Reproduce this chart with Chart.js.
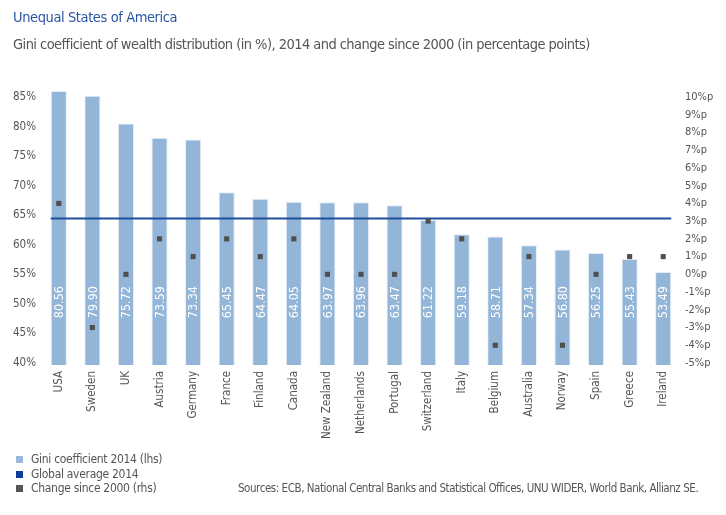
<!DOCTYPE html>
<html>
<head>
<meta charset="utf-8">
<script src="https://cdn.jsdelivr.net/npm/chart.js@4.4.1/dist/chart.umd.min.js"></script>
<style>
  html, body { margin: 0; padding: 0; background: #fff; }
  body { width: 726px; height: 515px; position: relative; overflow: hidden;
         font-family: "Liberation Sans Narrow", "DejaVu Sans Condensed", sans-serif; }
  #wrap { position: absolute; left: 0; top: 0; width: 726px; height: 515px; }
  .title { position: absolute; left: 13px; top: 9px; font-size: 14.5px; color: #2b55a3; letter-spacing: -0.4px; white-space: nowrap; }
  .subtitle { position: absolute; left: 13px; top: 36px; font-size: 14.5px; color: #555; letter-spacing: -0.55px; white-space: nowrap; }
  .legend { position: absolute; left: 16px; top: 452px; font-size: 12px; color: #555; line-height: 14.5px; letter-spacing: -0.3px; white-space: nowrap; }
  .legend span { display: inline-block; width: 7px; height: 7px; margin-right: 8px; vertical-align: 0px; }
  .source { position: absolute; left: 238px; top: 481px; font-size: 11.5px; color: #555; letter-spacing: -0.45px; white-space: nowrap; }
</style>
</head>
<body>
<div id="wrap"><canvas id="giniChart" width="726" height="515"></canvas></div>
<div class="title">Unequal States of America</div>
<div class="subtitle">Gini coefficient of wealth distribution (in %), 2014 and change since 2000 (in percentage points)</div>
<div class="legend">
  <div><span style="background:#9bbadb"></span>Gini coefficient 2014 (lhs)</div>
  <div><span style="background:#0b3f99"></span>Global average 2014</div>
  <div><span style="background:#555"></span>Change since 2000 (rhs)</div>
</div>
<div class="source">Sources: ECB, National Central Banks and Statistical Offices, UNU WIDER, World Bank, Allianz SE.</div>
<script>
const countries = ['USA', 'Sweden', 'UK', 'Austria', 'Germany', 'France', 'Finland', 'Canada', 'New Zealand',
  'Netherlands', 'Portugal', 'Switzerland', 'Italy', 'Belgium', 'Australia', 'Norway', 'Spain', 'Greece', 'Ireland'];
// bar heights as drawn (lhs)
const barHeights = [86.0, 85.2, 80.5, 78.1, 77.8, 68.9, 67.8, 67.3, 67.2, 67.2, 66.7, 64.2, 61.8, 61.4, 59.9, 59.2, 58.6, 57.6, 55.4];
// values printed inside the bars
const giniLabels = ['80.56', '79.90', '75.72', '73.59', '73.34', '65.45', '64.47', '64.05', '63.97', '63.96',
  '63.47', '61.22', '59.18', '58.71', '57.34', '56.80', '56.25', '55.43', '53.49'];
// change since 2000 in percentage points (rhs)
const changeSince2000 = [4, -3, 0, 2, 1, 2, 1, 2, 0, 0, 0, 3, 2, -4, 1, -4, 0, 1, 1];
const globalAverage = 64.5;

const NARROW = '"Liberation Sans Narrow", "DejaVu Sans Condensed", sans-serif';

// global average line + value labels inside bars
const barExtras = {
  id: 'barExtras',
  afterDatasetDraw(chart, args) {
    if (args.index !== 0) return;
    const ctx = chart.ctx;
    const y = chart.scales.y;
    const bars = chart.getDatasetMeta(0).data;

    ctx.save();
    ctx.fillStyle = '#fff';
    ctx.font = '12.5px ' + NARROW;
    ctx.textAlign = 'center';
    ctx.textBaseline = 'middle';
    bars.forEach((bar, i) => {
      ctx.save();
      ctx.translate(bar.x, y.getPixelForValue(50.3));
      ctx.rotate(-Math.PI / 2);
      ctx.fillText(giniLabels[i], 0, 1);
      ctx.restore();
    });

    const first = bars[0], last = bars[bars.length - 1];
    const ly = Math.round(y.getPixelForValue(globalAverage)) + 0.5;
    ctx.strokeStyle = '#1f4f9e';
    ctx.lineWidth = 2;
    ctx.beginPath();
    ctx.moveTo(first.x - first.width / 2, ly);
    ctx.lineTo(last.x + last.width / 2, ly);
    ctx.stroke();
    ctx.restore();
  }
};

new Chart(document.getElementById('giniChart'), {
  type: 'bar',
  data: {
    labels: countries,
    datasets: [{
      label: 'Gini coefficient 2014 (lhs)',
      data: barHeights,
      backgroundColor: '#93b5d7',
      borderColor: 'rgba(225,235,245,0.9)',
      borderWidth: 1,
      barPercentage: 0.48,
      categoryPercentage: 1,
      yAxisID: 'y',
      clip: { left: 0, top: 20, right: 0, bottom: 2 },
      order: 1
    }, {
      type: 'line',
      label: 'Change since 2000 (rhs)',
      data: changeSince2000,
      showLine: false,
      pointStyle: 'rect',
      pointRadius: 3.6,
      pointBackgroundColor: '#4f4f4f',
      pointBorderWidth: 0,
      yAxisID: 'y2',
      order: 0
    }]
  },
  options: {
    responsive: false,
    animation: false,
    layout: { padding: { top: 97, bottom: 0, left: 0, right: 0 } },
    plugins: {
      legend: { display: false },
      tooltip: { enabled: false }
    },
    scales: {
      x: {
        grid: { display: false, drawTicks: false },
        border: { display: false },
        ticks: {
          font: { size: 11.5, family: NARROW },
          color: '#555',
          padding: 8,
          minRotation: 90,
          maxRotation: 90,
          autoSkip: false
        },
        afterFit(scale) { scale.height = 152; }
      },
      y: {
        position: 'left',
        min: 40,
        max: 85,
        grid: { display: false, drawTicks: false },
        border: { display: false },
        ticks: {
          stepSize: 5,
          font: { size: 11.5, family: NARROW },
          color: '#555',
          padding: 6,
          callback: v => v + '%'
        },
        afterFit(scale) { scale.width = 42; }
      },
      y2: {
        position: 'right',
        min: -5,
        max: 10,
        grid: { display: false, drawTicks: false },
        border: { display: false },
        ticks: {
          stepSize: 1,
          font: { size: 11, family: NARROW },
          color: '#555',
          padding: 5,
          callback: v => v + '%p'
        },
        afterFit(scale) { scale.width = 46; }
      }
    }
  },
  plugins: [barExtras]
});
</script>
</body>
</html>
